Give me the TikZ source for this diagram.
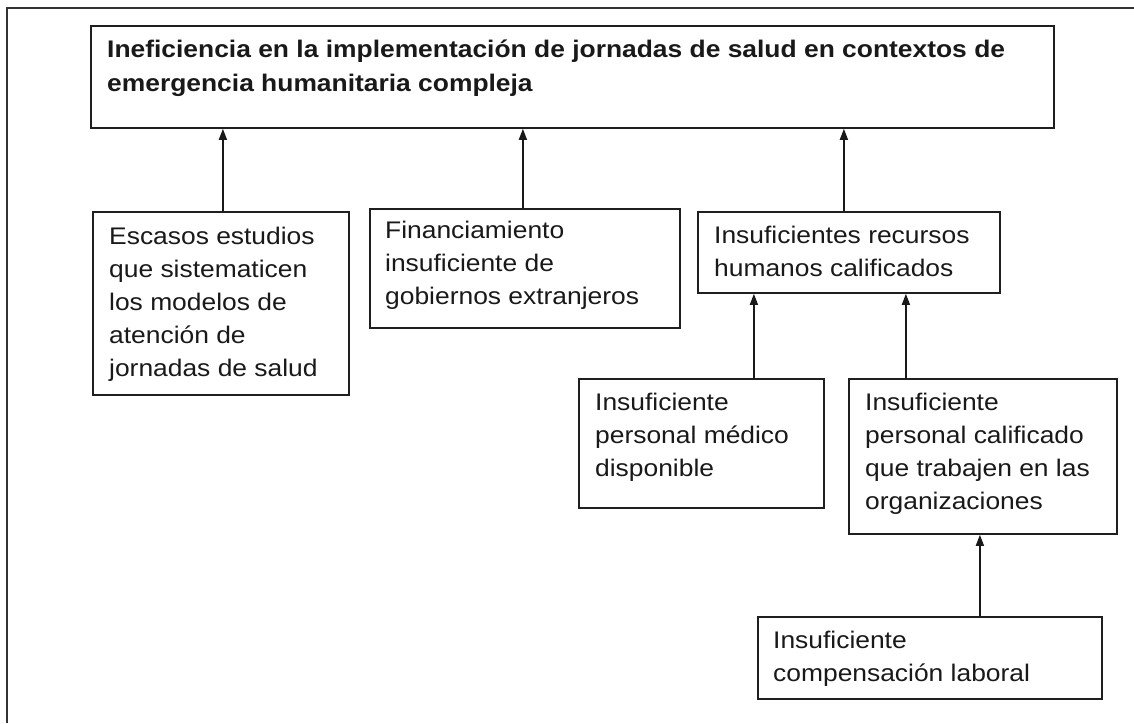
\documentclass[tikz,border=0pt]{standalone}
\usepackage{fontspec}
\setmainfont{Liberation Sans}[FakeStretch=1.1]
\usetikzlibrary{arrows.meta}
\begin{document}
\begin{tikzpicture}[x=1pt,y=-1pt,
  box/.style={draw=black!88,line width=1.8pt,inner sep=0pt,anchor=north west,fill=white},
  txt/.style={anchor=north west,inner sep=0pt,align=left,text=black!90,font=\fontsize{24}{33}\selectfont},
  arr/.style={draw=black!90,line width=1.5pt,-{Triangle[length=11pt,width=8pt]}},
  frame/.style={draw=black!80,line width=2pt}]
\useasboundingbox (0,0) rectangle (1134,723);
\draw[frame] (7,723) -- (7,8) -- (1134,8);
% boxes
\node[box,minimum width=963pt,minimum height=102pt] (top) at (90,25) {};
\node[box,minimum width=256pt,minimum height=183pt] (esc) at (92,211) {};
\node[box,minimum width=310pt,minimum height=119pt] (fin) at (369,208) {};
\node[box,minimum width=302pt,minimum height=81pt] (rec) at (697,211) {};
\node[box,minimum width=245pt,minimum height=129pt] (med) at (578,378) {};
\node[box,minimum width=268pt,minimum height=155pt] (cal) at (848,378) {};
\node[box,minimum width=344pt,minimum height=82pt] (comp) at (757,616) {};
% texts
\node[txt,font=\fontsize{24}{34}\selectfont\bfseries] (topT) at (107,37) {\rule{0pt}{20pt}Ineficiencia en la implementación de jornadas de salud en contextos de\\emergencia humanitaria compleja};
\node[txt] (escT) at (109,224) {\rule{0pt}{20pt}Escasos estudios\\que sistematicen\\los modelos de\\atención de\\jornadas de salud};
\node[txt] (finT) at (385,218) {\rule{0pt}{20pt}Financiamiento\\insuficiente de\\gobiernos extranjeros};
\node[txt] (recT) at (714,223) {\rule{0pt}{20pt}Insuficientes recursos\\humanos calificados};
\node[txt] (medT) at (595,390) {\rule{0pt}{20pt}Insuficiente\\personal médico\\disponible};
\node[txt] (calT) at (865,390) {\rule{0pt}{20pt}Insuficiente\\personal calificado\\que trabajen en las\\organizaciones};
\node[txt] (compT) at (773,628) {\rule{0pt}{20pt}Insuficiente\\compensación laboral};
% connectors
\draw[arr] ([xshift=2pt]esc.north) coordinate (a1) -- (a1 |- top.south);
\draw[arr] ([xshift=-2pt]fin.north) coordinate (a2) -- (a2 |- top.south);
\draw[arr] ([xshift=-5pt]rec.north) coordinate (a3) -- (a3 |- top.south);
\draw[arr] ([xshift=52.5pt]med.north) coordinate (a4) -- (a4 |- rec.south);
\draw[arr] ([xshift=-77pt]cal.north) coordinate (a5) -- (a5 |- rec.south);
\draw[arr] ([xshift=50pt]comp.north) coordinate (a6) -- (a6 |- cal.south);
\end{tikzpicture}
\end{document}
